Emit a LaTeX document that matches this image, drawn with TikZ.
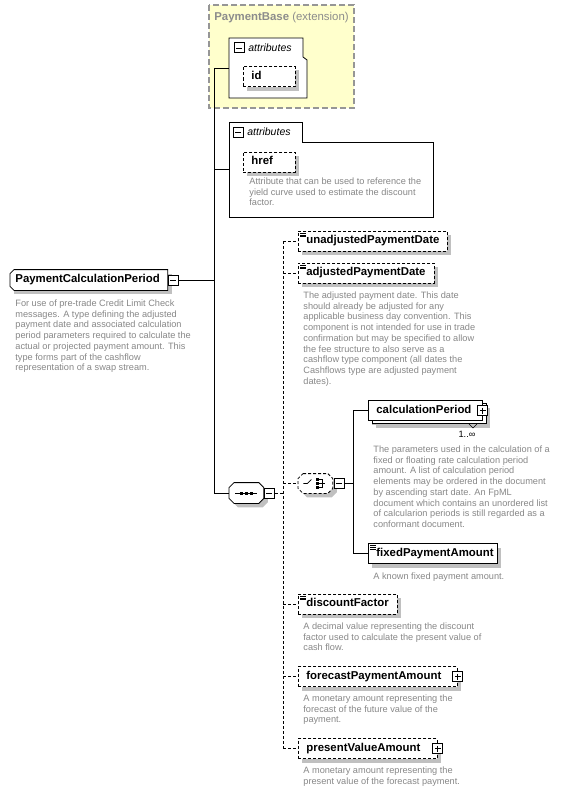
\documentclass[tikz,border=0pt]{standalone}
\usepackage{fontspec}
\setmainfont{Liberation Sans}
\usetikzlibrary{positioning, calc, shadows}

\definecolor{descgray}{RGB}{135,135,135}
\definecolor{basegray}{RGB}{140,140,140}
\definecolor{extfill}{RGB}{255,255,204}
\definecolor{extline}{RGB}{150,150,150}
\definecolor{shade}{RGB}{192,192,192}

\newcommand{\namefont}{\fontsize{11.4}{13}\selectfont}
\newcommand{\descfont}{\fontsize{9.2}{10.7}\selectfont}
% outline of a node with all four corners cut off
\newcommand{\cutpath}[2]{([xshift=#2]#1.north west) -- ([xshift=-#2]#1.north east) -- ([yshift=-#2]#1.north east)
  -- ([yshift=#2]#1.south east) -- ([xshift=-#2]#1.south east) -- ([xshift=#2]#1.south west)
  -- ([yshift=#2]#1.south west) -- ([yshift=-#2]#1.north west) -- cycle}

\tikzset{
  schema/.style={
	x=1pt, y=-1pt, % pixel grid, y runs down
	line width=0.8pt,
  },
  namebox/.style={
	anchor=west, % boxes hang on their left edge
	minimum height=20pt, inner xsep=8pt, inner ysep=0pt,
	text height=8.2pt, text depth=2.4pt, align=left,
	font=\namefont\bfseries,
  },
  elem/.style={
	namebox, draw, fill=white,
	general shadow={fill=shade, shadow xshift=4pt, shadow yshift=-4pt},
  },
  optional/.style={dash pattern=on 3pt off 2pt}, % minOccurs=0
  multi/.style={ % maxOccurs > 1
	general shadow={fill=shade, shadow xshift=8pt, shadow yshift=-7pt},
	copy shadow={shadow xshift=4pt, shadow yshift=-3pt},
  },
  simple/.style={ % the small lines of simple content
	path picture={
	  \foreach \d in {2,3.8,5.6}
		\draw[solid, line width=0.6pt] ([xshift=2pt, yshift=-\d pt]path picture bounding box.north west) -- ++(5.5pt,0);
	},
  },
  expander/.style={draw, solid, fill=white, minimum size=10pt, inner sep=0pt, line width=1pt},
  minusbox/.style={expander, path picture={
	  \draw[line width=0.9pt] ([xshift=2pt]path picture bounding box.west) -- ([xshift=-2pt]path picture bounding box.east);}},
  plusbox/.style={expander, path picture={
	  \draw[line width=0.9pt] ([xshift=2pt]path picture bounding box.west) -- ([xshift=-2pt]path picture bounding box.east)
		([yshift=-2pt]path picture bounding box.north) -- ([yshift=2pt]path picture bounding box.south);}},
  compositor/.style={anchor=west, minimum width=34pt, minimum height=20pt, inner sep=0pt},
  dropshadow/.style={fill=shade, transform canvas={shift={(4pt,-4pt)}}},
  desc/.style={anchor=north west, inner sep=0pt, align=left, text=descgray, font=\descfont},
  grplabel/.style={anchor=west, inner sep=0pt, font=\fontsize{10.5}{12}\selectfont\itshape},
  groupbox/.style={draw, fill=white},
  extbox/.style={draw=extline, fill=extfill, line width=1.3pt, dash pattern=on 6pt off 3pt},
  optconn/.style={dash pattern=on 3pt off 2pt},
}

\begin{document}
\begin{tikzpicture}[schema]
  \useasboundingbox (0,0) rectangle (576,792);

  % base type
  \draw[extbox] (209,5) rectangle (354,108);
  \node[font=\namefont, text=basegray] (base) at (281.5,18) {\textbf{PaymentBase} (extension)};
  \draw[groupbox] (229,38) -- (303,38) -- (303,57) -- (307,60) -- (307,98) -- (229,98) -- cycle;
  \node[minusbox] (grp1m) at (239,48) {};
  \node[grplabel] (grp1) at (248,48) {attributes};
  \node[elem, optional, text width=36pt] (id) at (243,76.5) {id};

  % own attributes
  \draw[groupbox] (229,122) -- (302,122) -- (302,142) -- (433,142) -- (433,217) -- (229,217) -- cycle;
  \node[minusbox] (grp2m) at (238,132) {};
  \node[grplabel] (grp2) at (247,132) {attributes};
  \node[elem, optional, text width=36pt] (href) at (243,162) {href};
  \node[desc] (hrefdesc) at (249,177.5) {Attribute that can be used to reference the\\yield curve used to estimate the discount\\factor.};

  % root, left corners cut
  \node[namebox, inner xsep=5pt, text width=147pt] (root) at (10,280) {};
  \fill[dropshadow] (root.north west) -- (root.north east) -- (root.south east) -- (root.south west) -- cycle;
  \draw[fill=white] ([xshift=4pt]root.north west) -- (root.north east) -- (root.south east) -- ([xshift=4pt]root.south west)
	-- ([yshift=4pt]root.south west) -- ([yshift=-4pt]root.north west) -- cycle;
  \node[namebox, inner xsep=5pt, text width=147pt] (roottext) at (10,280) {PaymentCalculationPeriod};
  \node[minusbox, anchor=west] (rootm) at (root.east) {};
  \node[desc] (rootdesc) at (15,299.5) {For use of pre-trade Credit Limit Check\\messages. A type defining the adjusted\\payment date and associated calculation\\period parameters required to calculate the\\actual or projected payment amount. This\\type forms part of the cashflow\\representation of a swap stream.};

  % sequence and its children
  \node[compositor] (seq) at (229,493) {};
  \fill[dropshadow] \cutpath{seq}{5pt};
  \draw[fill=white] \cutpath{seq}{5pt};
  \draw ([xshift=-11pt]seq.center) -- ([xshift=11pt]seq.center);
  \foreach \d in {-5,0,5}
	\fill ([xshift=\d pt]seq.center) +(-1.5pt,-1.5pt) rectangle +(1.5pt,1.5pt);
  \node[minusbox, anchor=west] (seqm) at (seq.east) {};

  \node[elem, optional, simple, text width=133pt] (unadj) at (298,241) {unadjustedPaymentDate};
  \node[elem, optional, simple, text width=120pt] (adj) at (298,273) {adjustedPaymentDate};
  \node[desc] (adjdesc) at (303,291.5) {The adjusted payment date. This date\\should already be adjusted for any\\applicable business day convention. This\\component is not intended for use in trade\\confirmation but may be specified to allow\\the fee structure to also serve as a\\cashflow type component (all dates the\\Cashflows type are adjusted payment\\dates).};

  % choice
  \node[compositor, minimum height=19pt] (choice) at (298,483.5) {};
  \fill[dropshadow] \cutpath{choice}{5pt};
  \draw[optional, fill=white] \cutpath{choice}{5pt};
  \draw ([xshift=-12pt]choice.center) -- ++(4pt,0) -- ++(4pt,4pt);
  \foreach \d in {-4,0,4}
	\fill ([xshift=1pt, yshift=\d pt]choice.center) +(0,-1.2pt) rectangle +(2.6pt,1.2pt);
  \draw ([xshift=4pt, yshift=4pt]choice.center) -- ++(2.5pt,0) -- ++(0,-8pt) -- ++(-2.5pt,0)
	([xshift=4pt]choice.center) -- ++(6pt,0);
  \node[minusbox, anchor=west] (choicem) at ([xshift=1pt]choice.east) {};

  \node[elem, multi, text width=98pt] (calc) at (368,410.5) {calculationPeriod};
  \node[plusbox] (calcp) at (calc.east) {};
  \draw[line width=0.6pt] (469,424) -- (473,428) -- (477,424);
  \node[font=\descfont, inner sep=0pt] (calcmult) at (467,434) {1..∞};
  \node[desc] (calcdesc) at (373,445.5) {The parameters used in the calculation of a\\fixed or floating rate calculation period\\amount. A list of calculation period\\elements may be ordered in the document\\by ascending start date. An FpML\\document which contains an unordered list\\of calcularion periods is still regarded as a\\conformant document.};

  \node[elem, simple, text width=113pt] (fixed) at (368,553.5) {fixedPaymentAmount};
  \node[desc] (fixeddesc) at (373,572.5) {A known fixed payment amount.};

  % remaining children
  \node[elem, optional, simple, text width=83pt] (disc) at (298,604) {discountFactor};
  \node[desc] (discdesc) at (303,622.5) {A decimal value representing the discount\\factor used to calculate the present value of\\cash flow.};
  \node[elem, optional, text width=143pt] (fore) at (298,676.5) {forecastPaymentAmount};
  \node[plusbox] (forep) at (fore.east) {};
  \node[desc] (foredesc) at (303,694.5) {A monetary amount representing the\\forecast of the future value of the\\payment.};
  \node[elem, optional, text width=123pt] (pres) at (298,748.5) {presentValueAmount};
  \node[plusbox] (presp) at (pres.east) {};
  \node[desc] (presdesc) at (303,766.5) {A monetary amount representing the\\present value of the forecast payment.};

  % connectors
  \coordinate (trunk) at (214,68);
  \coordinate (grp1in) at (229,68);
  \coordinate (grp2in) at (229,169);
  \coordinate (seqbus) at (283,493);
  \coordinate (chbus) at (353,483.5);
  \draw (trunk) -- (trunk |- seq.west);
  \draw (rootm.east) -- (rootm.east -| trunk);
  \draw (trunk) -- (grp1in);
  \draw (grp2in -| trunk) -- (grp2in);
  \draw (seq.west -| trunk) -- (seq.west);
  \draw[optconn] (seqm.east) -- (seqbus);
  \draw[optconn] (seqbus |- unadj.west) -- (seqbus |- pres.west);
  \foreach \n in {unadj, adj, choice, disc, fore, pres}
	\draw[optconn] (\n.west -| seqbus) -- (\n.west);
  \draw (choicem.east) -- (chbus);
  \draw (chbus |- calc.west) -- (chbus |- fixed.west);
  \foreach \n in {calc, fixed}
	\draw (\n.west -| chbus) -- (\n.west);
\end{tikzpicture}
\end{document}
